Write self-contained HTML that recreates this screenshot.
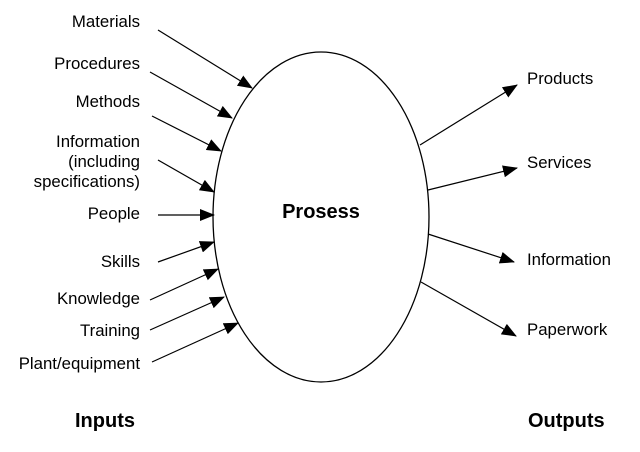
<!DOCTYPE html>
<html><head><style>body{margin:0;background:#fff}svg text{font-family:"Liberation Sans",sans-serif;font-size:16.8px;fill:#000}</style></head><body>
<svg width="640" height="447" viewBox="0 0 640 447">
<defs><marker id="a" markerWidth="16" markerHeight="12" refX="14" refY="6" orient="auto" markerUnits="userSpaceOnUse"><path d="M0,0L15,6L0,12Z" fill="#000"/></marker></defs>
<ellipse cx="321" cy="217" rx="108" ry="165" fill="#fff" stroke="#000" stroke-width="1.3"/>
<text x="321" y="218" text-anchor="middle" style="font-weight:bold;font-size:20px">Prosess</text>
<g stroke="#000" stroke-width="1.2" marker-end="url(#a)">
<line x1="158" y1="30" x2="252" y2="88"/>
<line x1="150" y1="72" x2="232" y2="118"/>
<line x1="152" y1="116" x2="221" y2="151"/>
<line x1="158" y1="160" x2="214" y2="192"/>
<line x1="158" y1="215" x2="214" y2="215"/>
<line x1="158" y1="262" x2="214" y2="242"/>
<line x1="150" y1="300" x2="218" y2="269"/>
<line x1="150" y1="330" x2="224" y2="297"/>
<line x1="152" y1="362" x2="238" y2="323"/>
<line x1="420" y1="145" x2="517" y2="85"/>
<line x1="428" y1="190" x2="517" y2="168"/>
<line x1="428" y1="234" x2="514" y2="262"/>
<line x1="421" y1="282" x2="516" y2="336"/>
</g>
<g text-anchor="end">
<text x="140" y="27">Materials</text>
<text x="140" y="69">Procedures</text>
<text x="140" y="107">Methods</text>
<text x="140" y="147">Information</text>
<text x="140" y="167">(including</text>
<text x="140" y="187">specifications)</text>
<text x="140" y="219">People</text>
<text x="140" y="267">Skills</text>
<text x="140" y="304">Knowledge</text>
<text x="140" y="336">Training</text>
<text x="140" y="369">Plant/equipment</text>
</g>
<text x="527" y="84">Products</text>
<text x="527" y="168">Services</text>
<text x="527" y="265">Information</text>
<text x="527" y="335">Paperwork</text>
<text x="75" y="427" style="font-weight:bold;font-size:20px">Inputs</text>
<text x="528" y="427" style="font-weight:bold;font-size:20px">Outputs</text>
</svg>
</body></html>
